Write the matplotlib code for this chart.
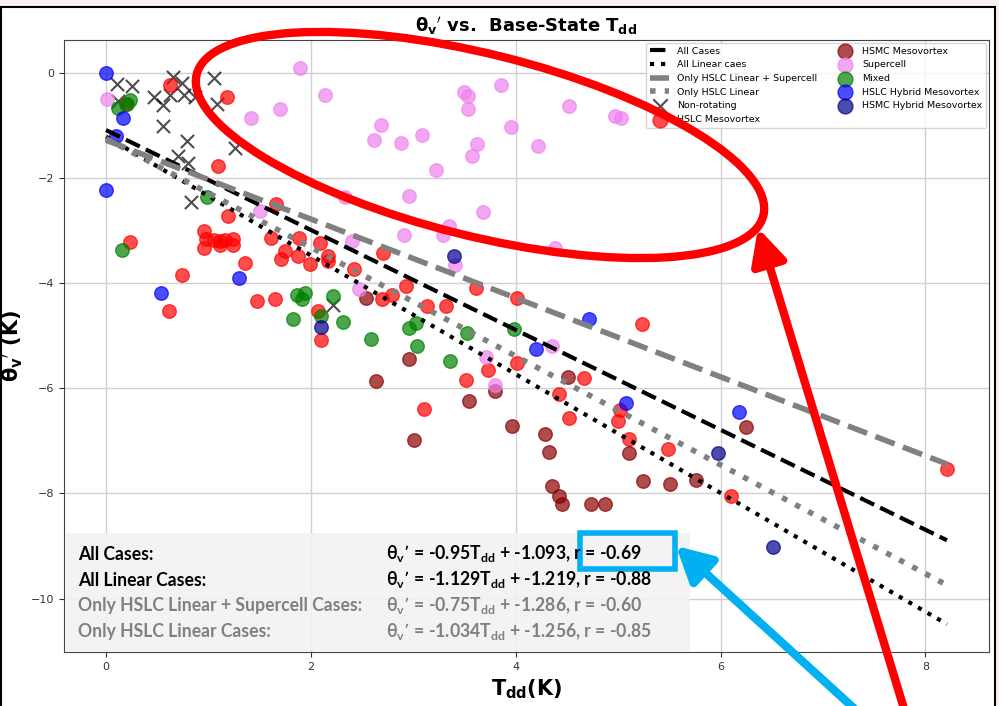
import numpy as np
import matplotlib.pyplot as plt
from matplotlib.patches import Rectangle, Ellipse, FancyArrowPatch

# ----------------------------------------
# Cold pool theta_v' against base-state Tdd, by storm mode
# ----------------------------------------
non_rot_x = [0.11, 0.25, 0.12, 0.47, 0.56, 0.62, 0.65, 0.74, 0.76, 0.87, 1.05, 1.08,
             0.56, 0.79, 0.70, 0.80, 0.83, 1.26, 2.22]
non_rot_y = [-0.22, -0.26, -0.55, -0.46, -0.61, -0.42, -0.08, -0.20, -0.42, -0.46, -0.10, -0.59,
             -1.01, -1.31, -1.59, -1.72, -2.46, -1.43, -4.42]

hslc_meso_x = [0.62, 1.18, 0.19, 1.09, 0.23, 0.74, 0.61, 1.19,
               0.96, 0.98, 1.05, 1.11, 1.16, 1.24, 0.96, 1.11, 1.24,
               1.36, 1.47, 1.65, 1.61, 1.66, 1.88, 1.71, 1.87, 1.99, 2.09, 2.17, 2.17, 1.75,
               2.42, 2.07, 2.10, 2.69, 2.79, 2.70, 2.93, 3.13, 3.32, 3.61, 4.01, 4.01, 3.73,
               3.51, 3.10, 4.42, 5.23, 4.67, 4.52, 5.02, 5.00, 5.11, 5.49, 6.10, 8.21]
hslc_meso_y = [-0.23, -0.46, -0.60, -1.77, -3.23, -3.85, -4.54, -2.72,
               -3.02, -3.17, -3.19, -3.21, -3.19, -3.16, -3.33, -3.27, -3.27,
               -3.62, -4.35, -4.30, -3.14, -2.50, -3.14, -3.55, -3.48, -3.64, -3.25, -3.49, -3.59, -3.40,
               -3.73, -4.54, -5.08, -4.30, -4.22, -3.44, -4.05, -4.44, -4.43, -4.09, -4.28, -5.53, -5.66,
               -5.85, -6.39, -6.12, -4.79, -5.81, -6.56, -6.42, -6.63, -6.97, -7.16, -8.06, -7.54]

hsmc_meso_x = [2.54, 2.64, 2.96, 3.54, 3.01, 3.80, 3.96, 4.29, 4.32, 4.51,
               5.11, 4.35, 4.42, 4.45, 4.73, 4.87, 5.24, 5.51, 5.76, 6.25]
hsmc_meso_y = [-4.28, -5.87, -5.44, -6.25, -6.99, -6.06, -6.72, -6.88, -7.22, -5.79,
               -7.23, -7.87, -8.06, -8.21, -8.20, -8.20, -7.77, -7.83, -7.75, -6.73]

supercell_x = [0.01, 1.89, 2.14, 1.70, 1.42, 2.68, 2.62, 2.88, 3.08, 3.49, 3.53, 3.53,
               3.62, 3.57, 3.22, 2.33, 2.96, 3.68, 1.50, 3.35, 3.29, 2.91, 2.40, 3.41,
               2.47, 3.86, 4.52, 4.97, 5.03, 3.95, 4.22, 4.38, 3.71, 3.80, 4.35]
supercell_y = [-0.51, 0.09, -0.42, -0.70, -0.86, -0.99, -1.29, -1.34, -1.18, -0.37, -0.45, -0.69,
               -1.35, -1.58, -1.86, -2.36, -2.35, -2.65, -2.64, -2.92, -3.08, -3.08, -3.21, -3.65,
               -4.11, -0.23, -0.63, -0.82, -0.87, -1.04, -1.40, -3.33, -5.40, -5.95, -5.20]

mixed_x = [0.12, 0.23, 0.20, 0.99, 0.16, 1.86, 1.94, 1.91, 2.22, 1.83, 2.10, 2.31,
           2.59, 2.96, 3.03, 3.04, 3.36, 3.52, 3.98]
mixed_y = [-0.67, -0.52, -0.60, -2.36, -3.38, -4.23, -4.19, -4.30, -4.25, -4.68, -4.63, -4.75,
           -5.06, -4.85, -4.76, -5.19, -5.49, -4.95, -4.88]

hslc_hyb_x = [0.0, 0.17, 0.0, 0.54, 1.30, 0.10, 4.72, 4.20, 5.08, 6.18]
hslc_hyb_y = [0.0, -0.87, -2.24, -4.19, -3.90, -1.21, -4.68, -5.25, -6.28, -6.45]

hsmc_hyb_x = [3.40, 2.10, 5.97, 6.51]
hsmc_hyb_y = [-3.49, -4.83, -7.24, -9.03]

# regression fits: slope, intercept, r
fit_names = ['All Cases', 'All Linear caes', 'Only HSLC Linear + Supercell', 'Only HSLC Linear']
fit_labels = ['All Cases:', 'All Linear Cases:', 'Only HSLC Linear + Supercell Cases:',
              'Only HSLC Linear Cases:']
fit_slope = [-0.95, -1.129, -0.75, -1.034]
fit_icept = [-1.093, -1.219, -1.286, -1.256]
fit_r = [-0.69, -0.88, -0.60, -0.85]
fit_color = ['black', 'black', 'gray', 'gray']
fit_style = ['--', ':', '--', ':']
fit_lw = [3, 3, 4, 4]
text_color = ['black', 'black', 'gray', 'gray']

fig = plt.figure(figsize=(9.99, 7.06), dpi=100)
fig.patch.set_facecolor('#fcefef')
fig.patches.append(Rectangle((1 / 999, -0.02), 994 / 999, 1.02 - 7 / 706, transform=fig.transFigure,
                             facecolor='white', edgecolor='black', lw=1.5, zorder=-10))

ax = fig.add_axes([64 / 999, 1 - 652 / 706, 925 / 999, 612 / 706])

pts = []
pts.append(ax.scatter(non_rot_x, non_rot_y, marker='x', s=90, color='black', alpha=0.7,
                      linewidths=1.5, label='Non-rotating'))
pts.append(ax.scatter(hslc_meso_x, hslc_meso_y, s=95, color='red', alpha=0.7, label='HSLC Mesovortex'))
pts.append(ax.scatter(hsmc_meso_x, hsmc_meso_y, s=95, color='darkred', alpha=0.7, label='HSMC Mesovortex'))
pts.append(ax.scatter(supercell_x, supercell_y, s=95, color='violet', alpha=0.7, label='Supercell'))
pts.append(ax.scatter(mixed_x, mixed_y, s=95, color='green', alpha=0.7, label='Mixed'))
pts.append(ax.scatter(hslc_hyb_x, hslc_hyb_y, s=95, color='blue', alpha=0.7,
                      label='HSLC Hybrid Mesovortex'))
pts.append(ax.scatter(hsmc_hyb_x, hsmc_hyb_y, s=95, color='darkblue', alpha=0.7,
                      label='HSMC Hybrid Mesovortex'))

all_x = np.concatenate([non_rot_x, hslc_meso_x, hsmc_meso_x, supercell_x, mixed_x,
                        hslc_hyb_x, hsmc_hyb_x])
xfit = np.array([all_x.min(), all_x.max()])
fits = []
for i in range(4):
    ln, = ax.plot(xfit, fit_slope[i] * xfit + fit_icept[i], fit_style[i], color=fit_color[i],
                  lw=fit_lw[i], label=fit_names[i])
    fits.append(ln)

ax.grid(True, color='#d0d0d0', lw=1)
ax.set_axisbelow(True)
ax.tick_params(labelsize=8, colors='#333333')
for sp in ax.spines.values():
    sp.set_color('#444444')

ax.set_title(r'$\mathbf{\theta_v}^{\prime}$ vs.  Base-State T$_\mathbf{dd}$', fontsize=13,
             fontweight='bold', pad=6)
ax.set_ylabel(r'$\mathbf{\theta_v}^{\prime}$ (K)', fontsize=15, fontweight='bold')
ax.set_xlabel(r'T$_\mathbf{dd}$(K)', fontsize=15, fontweight='bold')

handles = fits + pts
ax.legend(handles, [h.get_label() for h in handles], loc='upper right', ncol=2, fontsize=6.8,
          columnspacing=2.0, handlelength=2.0, borderaxespad=0.3, markerscale=1.1)

# overlay in pixel coords for the stats box and callouts
ov = fig.add_axes([0, 0, 1, 1], zorder=5)
ov.set_xlim(0, 999)
ov.set_ylim(706, 0)
ov.axis('off')

ov.add_patch(Rectangle((65, 533), 625, 118, facecolor='#f2f2f2', edgecolor='none', alpha=0.9))
row_y = [554, 580, 606, 631]
for i in range(4):
    eq = (r'θ$_\mathregular{v}$’ = ' + f'{fit_slope[i]:g}' + r'T$_\mathregular{dd}$ + '
          + f'{fit_icept[i]:g}, r = {fit_r[i]:.2f}')
    ov.text(78, row_y[i], fit_labels[i], fontsize=12.7, fontweight='bold', family='Lato',
            color=text_color[i], va='center')
    ov.text(386, row_y[i], eq, fontsize=12.7, fontweight='bold', family='Lato',
            color=text_color[i], va='center')

ov.add_patch(Rectangle((580, 533), 95, 36, facecolor='none', edgecolor='#00b0f0', lw=4))
ov.add_patch(Ellipse((480, 145), 584, 182, angle=14, facecolor='none', edgecolor='red', lw=6))
ov.add_patch(FancyArrowPatch((905, 712), (758, 228), arrowstyle='-|>,head_length=1.5,head_width=0.75',
                             color='red', lw=6, mutation_scale=14, shrinkA=0, shrinkB=0))
ov.add_patch(FancyArrowPatch((858, 712), (676, 546), arrowstyle='-|>,head_length=1.5,head_width=0.8',
                             color='#00b0f0', lw=6, mutation_scale=14, shrinkA=0, shrinkB=0))

plt.savefig('out.png', dpi=100)
